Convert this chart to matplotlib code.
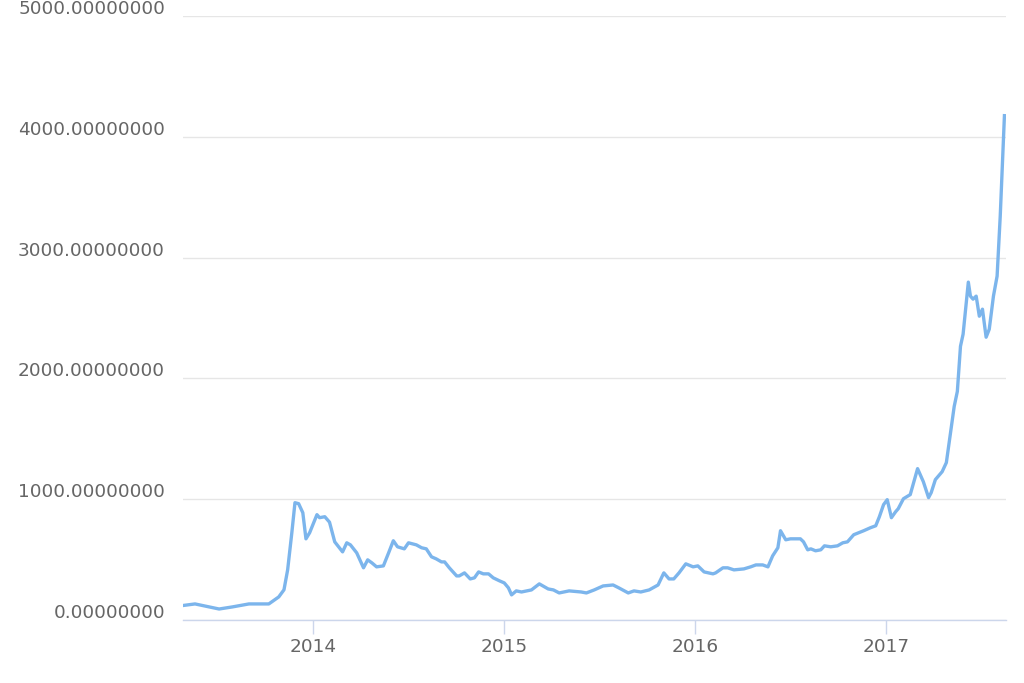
import matplotlib
matplotlib.use("Agg")
import matplotlib.pyplot as plt
import matplotlib.dates as mdates
import matplotlib.transforms as mtransforms
from matplotlib.ticker import FuncFormatter, MultipleLocator
import pandas as pd

# weekly-ish price points
dates = [
    "2013-04-28", "2013-05-21", "2013-06-17", "2013-07-06", "2013-07-31", "2013-09-01",
    "2013-10-09", "2013-10-28", "2013-11-07", "2013-11-14", "2013-11-22", "2013-11-28",
    "2013-12-05", "2013-12-13", "2013-12-19", "2013-12-26", "2014-01-09", "2014-01-14",
    "2014-01-24", "2014-02-02", "2014-02-12", "2014-02-27", "2014-03-07", "2014-03-14",
    "2014-03-26", "2014-04-08", "2014-04-16", "2014-04-24", "2014-05-03", "2014-05-16",
    "2014-05-26", "2014-06-04", "2014-06-12", "2014-06-25", "2014-07-03", "2014-07-18",
    "2014-07-28", "2014-08-06", "2014-08-16", "2014-08-25", "2014-09-04", "2014-09-10",
    "2014-09-19", "2014-10-03", "2014-10-08", "2014-10-18", "2014-10-29", "2014-11-06",
    "2014-11-14", "2014-11-23", "2014-12-03", "2014-12-12", "2014-12-24", "2015-01-02",
    "2015-01-10", "2015-01-16", "2015-01-25", "2015-02-04", "2015-02-23", "2015-03-10",
    "2015-03-27", "2015-04-06", "2015-04-17", "2015-05-06", "2015-05-29", "2015-06-08",
    "2015-06-23", "2015-07-10", "2015-07-29", "2015-08-09", "2015-08-27", "2015-09-07",
    "2015-09-20", "2015-10-06", "2015-10-23", "2015-11-03", "2015-11-13", "2015-11-22",
    "2015-12-02", "2015-12-15", "2015-12-29", "2016-01-07", "2016-01-19", "2016-02-05",
    "2016-02-10", "2016-02-24", "2016-03-04", "2016-03-16", "2016-04-04", "2016-04-17",
    "2016-04-27", "2016-05-10", "2016-05-20", "2016-05-29", "2016-06-08", "2016-06-13",
    "2016-06-23", "2016-07-02", "2016-07-21", "2016-07-27", "2016-08-04", "2016-08-10",
    "2016-08-19", "2016-08-29", "2016-09-05", "2016-09-17", "2016-09-30", "2016-10-10",
    "2016-10-19", "2016-10-31", "2016-11-09", "2016-11-19", "2016-12-02", "2016-12-12",
    "2016-12-19", "2016-12-27", "2017-01-03", "2017-01-11", "2017-01-19", "2017-01-24",
    "2017-02-03", "2017-02-16", "2017-03-02", "2017-03-13", "2017-03-23", "2017-03-28",
    "2017-04-05", "2017-04-18", "2017-04-26", "2017-05-04", "2017-05-11", "2017-05-17",
    "2017-05-23", "2017-05-28", "2017-06-07", "2017-06-11", "2017-06-16", "2017-06-22",
    "2017-06-28", "2017-07-04", "2017-07-11", "2017-07-17", "2017-07-25", "2017-08-01",
    "2017-08-07", "2017-08-15",
]
prices = [
    120, 133, 108, 91, 108, 133,
    133, 191, 250, 415, 722, 971,
    963, 888, 672, 722, 872, 847,
    855, 810, 647, 564, 639, 622,
    556, 432, 498, 473, 440, 448,
    556, 656, 606, 589, 639, 622,
    598, 589, 523, 506, 481, 481,
    432, 365, 365, 390, 340, 349,
    398, 382, 382, 349, 324, 307,
    266, 208, 241, 232, 249, 299,
    257, 249, 224, 241, 232, 224,
    249, 282, 290, 266, 224, 241,
    232, 249, 290, 390, 340, 340,
    390, 465, 440, 448, 398, 382,
    390, 432, 432, 415, 423, 440,
    456, 456, 440, 531, 598, 739,
    664, 672, 672, 647, 581, 589,
    573, 581, 614, 606, 614, 639,
    647, 706, 722, 739, 764, 780,
    855, 955, 996, 847, 896, 921,
    1004, 1038, 1253, 1145, 1013, 1054,
    1162, 1228, 1303, 1552, 1768, 1892,
    2266, 2366, 2797, 2681, 2656, 2681,
    2515, 2573, 2341, 2407, 2681, 2847,
    3345, 4175,
]
year_ticks = ["2014-01-01", "2015-01-01", "2016-01-01", "2017-01-01"]

x = pd.to_datetime(dates)

fig = plt.figure(figsize=(10.24, 6.83), dpi=100)
ax = fig.add_axes([183 / 1024, 1 - 620 / 683, (1006 - 183) / 1024, (620 - 16) / 683])

ax.plot(x, prices, color="#7cb5ec", lw=2.4, solid_joinstyle="round", zorder=3)

ax.set_ylim(0, 5000)
ax.set_xlim(x[0], pd.Timestamp("2017-08-18"))
ax.yaxis.set_major_locator(MultipleLocator(1000))
ax.yaxis.set_major_formatter(FuncFormatter(lambda v, p: f"{v:.8f}"))
ax.set_xticks(pd.to_datetime(year_ticks))
ax.xaxis.set_major_formatter(mdates.DateFormatter("%Y"))

ax.grid(axis="y", color="#e6e6e6", lw=1)
ax.set_axisbelow(True)
for s in ["top", "right", "left"]:
    ax.spines[s].set_visible(False)
ax.spines["bottom"].set_color("#ccd6eb")
ax.spines["bottom"].set_linewidth(1)

ax.tick_params(axis="y", length=0, pad=13, labelsize=13.3, labelcolor="#666666")
ax.tick_params(axis="x", length=10, width=1, color="#ccd6eb", pad=3,
               labelsize=13.3, labelcolor="#666666")

# highcharts puts y labels a bit above their grid lines
off = mtransforms.ScaledTranslation(0, 9 / 100, fig.dpi_scale_trans)
for lab in ax.get_yticklabels():
    lab.set_transform(lab.get_transform() + off)

fig.savefig("out.png", dpi=100)
